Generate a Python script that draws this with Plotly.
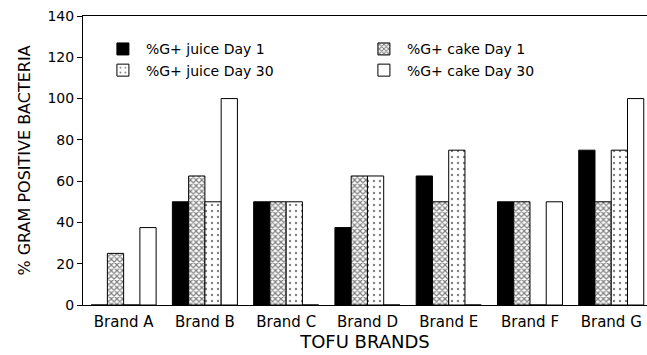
import plotly.graph_objects as go

brands = ["Brand A", "Brand B", "Brand C", "Brand D", "Brand E", "Brand F", "Brand G"]
juice_day1 = [0, 50, 50, 37.5, 62.5, 50, 75]
cake_day1 = [25, 62.5, 50, 62.5, 50, 50, 50]
juice_day30 = [0, 50, 50, 62.5, 75, 0, 75]
cake_day30 = [37.5, 100, 0, 0, 0, 50, 100]
y_ticks = [0, 20, 40, 60, 80, 100, 120, 140]

font = "DejaVu Sans, Liberation Sans, Arial, sans-serif"

fig = go.Figure()
fig.add_bar(x=brands, y=juice_day1, name="%G+ juice Day 1",
            marker=dict(color="black", line=dict(color="black", width=1)))
fig.add_bar(x=brands, y=cake_day1, name="%G+ cake Day 1",
            marker=dict(color="white", line=dict(color="black", width=1),
                        pattern=dict(shape="x", fgcolor="black", bgcolor="white",
                                     size=4, solidity=0.5)))
fig.add_bar(x=brands, y=juice_day30, name="%G+ juice Day 30",
            marker=dict(color="white", line=dict(color="black", width=1),
                        pattern=dict(shape=".", fgcolor="black", bgcolor="white",
                                     size=6, solidity=0.12)))
fig.add_bar(x=brands, y=cake_day30, name="%G+ cake Day 30",
            marker=dict(color="white", line=dict(color="black", width=1)))

fig.update_layout(
    width=647, height=355,
    margin=dict(l=83, r=0, t=16, b=50),
    paper_bgcolor="white", plot_bgcolor="white",
    barmode="group", bargap=0.2, bargroupgap=0,
    font=dict(family=font, color="black", size=14),
    showlegend=True,
    legend=dict(orientation="h", x=0.03, y=0.94, xanchor="left", yanchor="top",
                entrywidth=210, entrywidthmode="pixels",
                font=dict(size=14, family=font), bgcolor="rgba(0,0,0,0)",
                tracegroupgap=4, itemwidth=36),
    xaxis=dict(range=[-0.5, 6.44], showline=True, linecolor="black", linewidth=1,
               mirror=True, ticks="", tickfont=dict(size=15), ticklabelstandoff=3,
               title=dict(text="TOFU BRANDS", font=dict(size=18), standoff=3)),
    yaxis=dict(range=[0, 140], tickvals=y_ticks, showline=True, linecolor="black",
               linewidth=1, ticks="outside", ticklen=5, tickcolor="black",
               showgrid=False, zeroline=False, tickfont=dict(size=14),
               ticklabeloverflow="allow",
               title=dict(text="% GRAM POSITIVE BACTERIA", font=dict(size=16), standoff=12)),
)

fig.write_html(
    "out.html",
    config={"displayModeBar": False},
    post_script="document.body.style.margin='0';document.documentElement.style.overflow='hidden';",
)
